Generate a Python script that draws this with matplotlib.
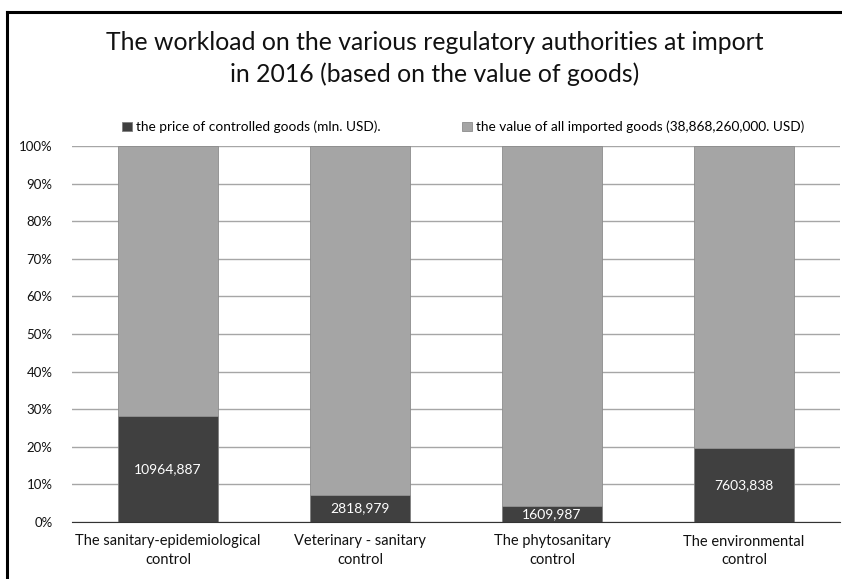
import matplotlib
matplotlib.use("Agg")
import matplotlib.pyplot as plt
import numpy as np
from matplotlib.lines import Line2D

plt.rcParams['font.family'] = ['Lato', 'DejaVu Sans']

categories = ["The sanitary-epidemiological\ncontrol", "Veterinary - sanitary\ncontrol",
              "The phytosanitary\ncontrol", "The environmental\ncontrol"]
controlled = [10964.887, 2818.979, 1609.987, 7603.838]
value_labels = ["10964,887", "2818,979", "1609,987", "7603,838"]
total_imports = 38868.26

controlled = np.array(controlled)
share_ctrl = controlled / total_imports * 100
share_rest = 100 - share_ctrl

fig = plt.figure(figsize=(8.42, 5.79), dpi=100)
ax = fig.add_axes([72/842, 1 - 522/579, (840-72)/842, (522-146)/579])

x = np.arange(len(categories))
dark = "#404040"
grey = "#a5a5a5"
ax.bar(x, share_ctrl, width=0.52, color=dark, edgecolor="#7f7f7f", linewidth=0.6,
       label="the price of controlled goods (mln. USD).", zorder=3)
ax.bar(x, share_rest, width=0.52, bottom=share_ctrl, color=grey, edgecolor="#8c8c8c",
       linewidth=0.6, label="the value of all imported goods (38,868,260,000. USD)", zorder=3)

for xi, s, lab in zip(x, share_ctrl, value_labels):
    ax.text(xi, s / 2, lab, ha="center", va="center", color="white", fontsize=10, zorder=4)

ax.set_xlim(-0.5, 3.5)
ax.set_ylim(0, 100)
ax.set_yticks(np.arange(0, 101, 10))
ax.set_yticklabels([f"{v}%" for v in range(0, 101, 10)], fontsize=9.5, color="#111111")
ax.set_xticks(x)
ax.set_xticklabels(categories, fontsize=10.5, color="#111111", linespacing=1.45)
ax.yaxis.grid(True, color="#a6a6a6", linewidth=1, zorder=0)
ax.tick_params(axis="both", length=0)
ax.tick_params(axis="x", pad=9)
ax.tick_params(axis="y", pad=14)
for side in ["top", "right", "left"]:
    ax.spines[side].set_visible(False)
ax.spines["bottom"].set_color("#333333")
ax.spines["bottom"].set_zorder(5)

fig.text(0.516, 1 - 43/579, "The workload on the various regulatory authorities at import",
         ha="center", va="center", fontsize=17.8, color="#111111")
fig.text(0.516, 1 - 74/579, "in 2016 (based on the value of goods)",
         ha="center", va="center", fontsize=17.8, color="#111111")

fig.legend(loc="center", bbox_to_anchor=(463/842, 1 - 127/579), ncol=2, frameon=False,
           fontsize=9.8, handlelength=0.7, handleheight=0.7, handletextpad=0.3,
           columnspacing=6.0)

fig.add_artist(Line2D([7/842, 7/842], [0, 1 - 12/579], color="black", linewidth=2.2,
                      transform=fig.transFigure))
fig.add_artist(Line2D([7/842, 1], [1 - 12/579, 1 - 12/579], color="black", linewidth=2.2,
                      transform=fig.transFigure))

fig.savefig("out.png", dpi=100)
